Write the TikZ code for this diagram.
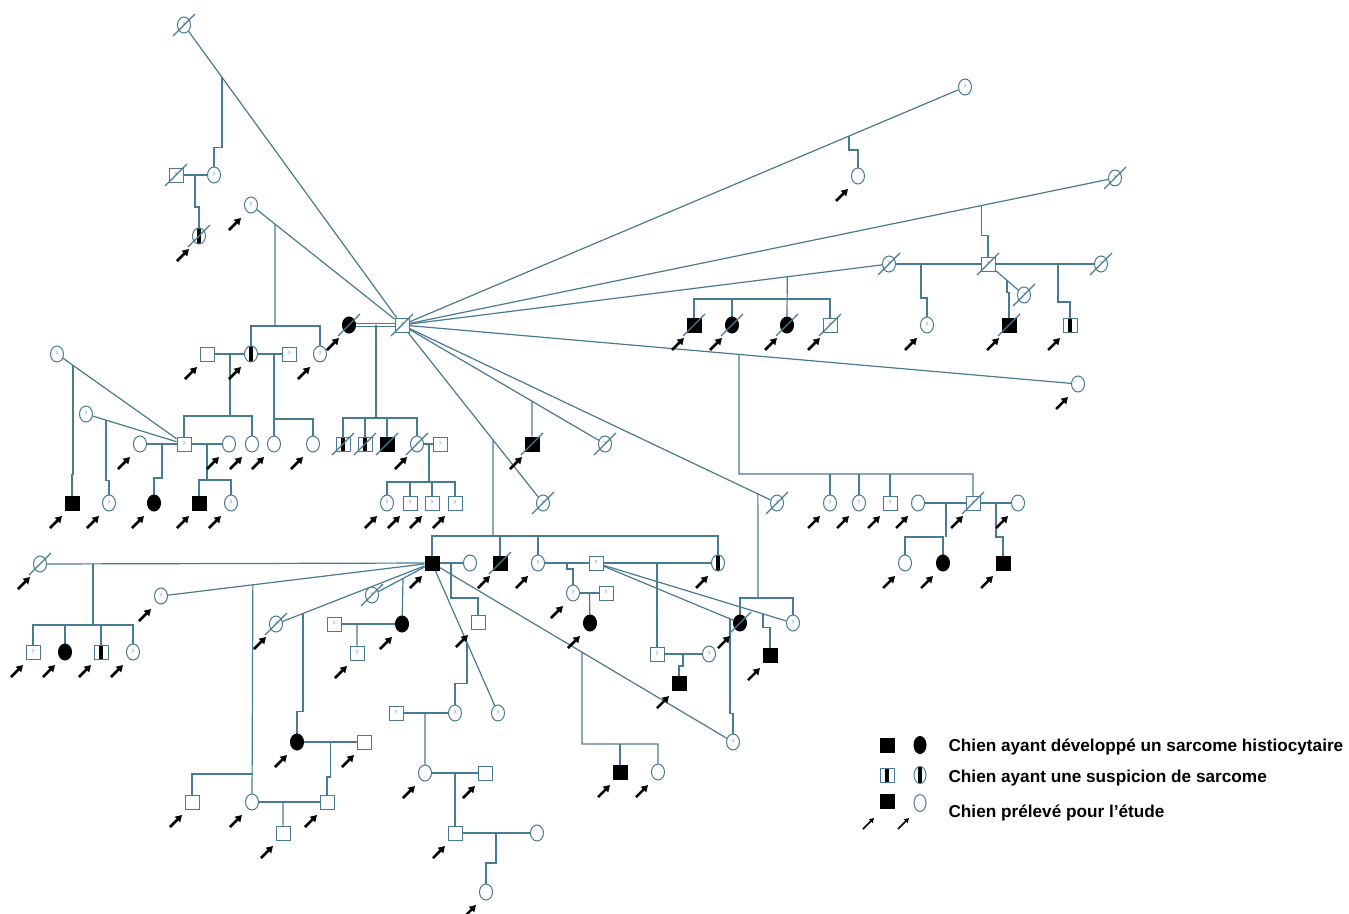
\documentclass[tikz,border=0pt]{standalone}
\usepackage{fontspec}
\setmainfont{Liberation Sans}
\usetikzlibrary{shapes.geometric,arrows.meta,calc}
\definecolor{lin}{RGB}{72,122,145}
\pgfdeclarelayer{bg}
\pgfsetlayers{bg,main}
\newcommand{\proband}[1]{\draw[pbarrow] (#1.center) ++(-22,25) -- ++(12,-12);}
\newcommand{\dcd}[1]{\draw[line] (#1.center) ++(-11,11) -- ++(22,-22);}
\tikzset{
  sym/.style={draw=lin, line width=1pt, inner sep=0pt, fill=white, text=lin, font=\fontsize{5}{5}\selectfont},
  sq/.style={sym, rectangle, minimum size=14pt},
  ci/.style={sym, ellipse, minimum width=13pt, minimum height=16pt},
  aff/.style={fill=black, draw=black},
  sus/.style={path picture={\fill[black] ([xshift=-1.6pt]path picture bounding box.south) rectangle ([xshift=1.6pt]path picture bounding box.north);}},
  line/.style={draw=lin, line width=1.2pt},
  pbarrow/.style={draw=black, line width=2.5pt, -{Triangle[length=6.5pt,width=7.5pt]}},
  legarrow/.style={draw=black, line width=1.5pt, -{Triangle[length=4.5pt,width=5pt]}},
  legtxt/.style={anchor=base west, font=\bfseries\fontsize{17.2}{18}\selectfont, text=black},
}
\begin{document}
\begin{tikzpicture}[x=1pt,y=-1pt]
\useasboundingbox (0,0) rectangle (1349,913);
% top left
\node[ci] (a1) at (184,25) {?}; \dcd{a1}
\node[sq] (h) at (402,325) {?}; \dcd{h}
\node[ci] (b1) at (214,175) {?};
\node[sq] (b2) at (176,175) {?}; \dcd{b2}
\node[ci,sus] (b3) at (199,236) {}; \dcd{b3} \proband{b3}
\node[ci] (c1) at (251,205) {?}; \proband{c1}
\node[ci,aff] (bc) at (349,325) {}; \dcd{bc} \proband{bc}
\node[sq] (d1) at (207,354) {}; \proband{d1}
\node[ci,sus] (d2) at (251,354) {}; \proband{d2}
\node[sq] (d3) at (289,354) {?};
\node[ci] (d4) at (320,354) {?}; \proband{d4}
\node[ci] (e1) at (57,354) {?};
\node[ci] (e2) at (86,414) {?};
\node[ci] (f1) at (140,444) {}; \proband{f1}
\node[sq] (f2) at (184,444) {?};
\node[ci] (f3) at (229,444) {}; \proband{f3}
\node[ci] (f4) at (252,444) {}; \proband{f4}
\node[ci] (f5) at (274,444) {}; \proband{f5}
\node[ci] (f6) at (313,444) {}; \proband{f6}
\node[sq,aff] (g1) at (72,503) {}; \proband{g1}
\node[ci] (g2) at (109,503) {?}; \proband{g2}
\node[ci,aff] (g3) at (154,503) {}; \proband{g3}
\node[sq,aff] (g4) at (199,503) {}; \proband{g4}
\node[ci] (g5) at (231,503) {?}; \proband{g5}
% around the hub
\node[sq,sus] (k1) at (343,444) {}; \dcd{k1}
\node[sq,sus] (k2) at (365,444) {}; \dcd{k2}
\node[sq,aff] (k3) at (387,444) {}; \dcd{k3}
\node[ci] (k4) at (417,444) {}; \dcd{k4} \proband{k4}
\node[sq] (k5) at (440,444) {?};
\node[ci] (l1) at (387,503) {?}; \proband{l1}
\node[sq] (l2) at (410,503) {?}; \proband{l2}
\node[sq] (l3) at (432,503) {?}; \proband{l3}
\node[sq] (l4) at (455,503) {?}; \proband{l4}
\node[sq,aff] (m1) at (532,444) {}; \dcd{m1} \proband{m1}
\node[ci] (m2) at (605,444) {?}; \dcd{m2}
\node[ci] (m3) at (543,503) {?}; \dcd{m3}
\node[ci] (m4) at (777,503) {?}; \dcd{m4}
% top right
\node[ci] (n1) at (965,87) {?};
\node[ci] (n2) at (858,176) {}; \proband{n2}
\node[ci] (n3) at (1115,178) {?}; \dcd{n3}
\node[ci] (n4) at (889,264) {?}; \dcd{n4}
\node[sq] (n5) at (988,264) {?}; \dcd{n5}
\node[ci] (n6) at (1101,264) {?}; \dcd{n6}
\node[ci] (n7) at (1024,295) {?}; \dcd{n7}
\node[ci] (n8) at (1078,384) {}; \proband{n8}
\node[sq,aff] (o1) at (694,325) {}; \dcd{o1} \proband{o1}
\node[ci,aff] (o2) at (732,325) {}; \dcd{o2} \proband{o2}
\node[ci,aff] (o3) at (787,325) {}; \dcd{o3} \proband{o3}
\node[sq] (o4) at (830,325) {?}; \dcd{o4} \proband{o4}
\node[ci] (o5) at (927,325) {?}; \proband{o5}
\node[sq,aff] (o6) at (1009,325) {}; \dcd{o6} \proband{o6}
\node[sq,sus] (o7) at (1070,325) {}; \proband{o7}
% right middle
\node[ci] (p1) at (830,503) {?}; \proband{p1}
\node[ci] (p2) at (859,503) {?}; \proband{p2}
\node[sq] (p3) at (890,503) {?}; \proband{p3}
\node[ci] (p4) at (918,503) {}; \proband{p4}
\node[sq] (p5) at (973,503) {?}; \dcd{p5} \proband{p5}
\node[ci] (p6) at (1018,503) {}; \proband{p6}
\node[ci] (q1) at (905,563) {}; \proband{q1}
\node[ci,aff] (q2) at (943,563) {}; \proband{q2}
\node[sq,aff] (q3) at (1003,563) {}; \proband{q3}
% lower centre
\node[sq,aff] (bb) at (432,563) {}; \proband{bb}
\node[ci] (r1) at (470,563) {};
\node[sq,aff] (r2) at (500,563) {}; \dcd{r2} \proband{r2}
\node[ci] (r3) at (538,563) {?}; \proband{r3}
\node[sq] (r4) at (596,563) {?};
\node[ci,sus] (r5) at (718,563) {}; \proband{r5}
\node[ci] (s1) at (573,593) {?}; \proband{s1}
\node[sq] (s2) at (606,593) {?};
\node[ci,aff] (s3) at (590,623) {}; \proband{s3}
\node[sq] (t1) at (657,654) {?};
\node[ci] (t2) at (709,654) {?};
\node[sq,aff] (t3) at (679,683) {}; \proband{t3}
\node[ci,aff] (u1) at (740,623) {}; \dcd{u1} \proband{u1}
\node[ci] (u2) at (793,623) {?};
\node[sq,aff] (u3) at (770,655) {}; \proband{u3}
\node[ci] (u4) at (733,742) {?};
\node[sq,aff] (v1) at (620,772) {}; \proband{v1}
\node[ci] (v2) at (658,772) {}; \proband{v2}
\node[sq] (w1) at (478,622) {}; \proband{w1}
\node[ci] (w2) at (498,713) {?};
\node[ci] (w3) at (455,713) {?};
\node[sq] (w4) at (396,713) {?};
\node[ci] (w5) at (425,773) {}; \proband{w5}
\node[sq] (w6) at (485,773) {}; \proband{w6}
\node[sq] (w7) at (455,833) {}; \proband{w7}
\node[ci] (w8) at (537,833) {};
\node[ci] (w9) at (486,892) {}; \proband{w9}
% lower left
\node[ci] (x1) at (40,564) {}; \dcd{x1} \proband{x1}
\node[sq] (x2) at (33,652) {?}; \proband{x2}
\node[ci,aff] (x3) at (65,652) {}; \proband{x3}
\node[sq,sus] (x4) at (101,652) {}; \proband{x4}
\node[ci] (x5) at (133,652) {?}; \proband{x5}
\node[ci] (y1) at (161,596) {?}; \proband{y1}
\node[ci] (y2) at (276,624) {?}; \dcd{y2} \proband{y2}
\node[ci] (y3) at (372,595) {?}; \dcd{y3}
\node[ci,aff] (y4) at (402,624) {}; \proband{y4}
\node[sq] (y5) at (334,624) {?};
\node[sq] (y6) at (357,653) {?}; \proband{y6}
\node[ci,aff] (z1) at (297,742) {}; \proband{z1}
\node[sq] (z2) at (364,742) {}; \proband{z2}
\node[sq] (z3) at (192,802) {}; \proband{z3}
\node[ci] (z4) at (252,802) {}; \proband{z4}
\node[sq] (z5) at (327,802) {}; \proband{z5}
\node[sq] (z6) at (283,833) {}; \proband{z6}
% connectors
\begin{pgfonlayer}{bg}
\draw[line] (a1) -- (h);
\draw[line] ($(a1)!0.174!(h)$) -- ++(0,70) -| (b1);
\draw[line] (b2) -- (b1);
\draw[line] ($(b2)!0.5!(b1)$) -- ++(0,32) -| (b3);
\draw[line] (c1) -- (h);
\coordinate (sb1) at (275,326);
\draw[line] ($(c1)!0.159!(h)$) -- (sb1);
\draw[line] (d2) -- (d2 |- sb1) -- (d4 |- sb1) -- (d4);
\draw[line, double=white, double distance=1.6pt] (bc) -- (h);
\coordinate (sb2) at (376,418);
\draw[line] (sb2) -- (sb2 |- h);
\draw[line] (k1) -- (k1 |- sb2) -- (k4 |- sb2) -- (k4);
\draw[line] (k2) -- (k2 |- sb2);
\draw[line] (k3) -- (k3 |- sb2);
\draw[line] (d1) -- (d2);
\draw[line] (d2) -- (d3);
\coordinate (sb3) at (230,416);
\draw[line] (sb3) -- (sb3 |- d1);
\draw[line] (f2) -- (f2 |- sb3) -- (f4 |- sb3) -- (f4);
\coordinate (sb4) at (274,419);
\draw[line] (sb4) -- (sb4 |- d3);
\draw[line] (f5) -- (f5 |- sb4) -- (f6 |- sb4) -- (f6);
\draw[line] (e1) -- (f2);
\draw[line] ($(e1)!0.126!(f2)$) -- ++(0,109) -| (g1);
\draw[line] (e2) -- (f2);
\draw[line] ($(e2)!0.204!(f2)$) -- ++(0,60) -| (g2);
\draw[line] (f1) -- (f2);
\draw[line] ($(f1)!0.5!(f2)$) -- ++(0,34) -| (g3);
\draw[line] (f2) -- (f3);
\coordinate (sb5) at (207,480);
\draw[line] (sb5) -- (sb5 |- f2);
\draw[line] (g4) -- (g4 |- sb5) -- (g5 |- sb5) -- (g5);
\draw[line] (k4) -- (k5);
\coordinate (sb6) at (429,482);
\draw[line] (sb6) -- (sb6 |- k4);
\draw[line] (l1) -- (l1 |- sb6) -- (l4 |- sb6) -- (l4);
\draw[line] (l2) -- (l2 |- sb6);
\draw[line] (l3) -- (l3 |- sb6);
\draw[line] (h) -- (m2);
\draw[line] ($(h)!0.64!(m2)$) -- (m1);
\draw[line] (h) -- (m3);
\coordinate (sb7) at (493,536);
\draw[line] ($(h)!0.645!(m3)$) -- (sb7);
\draw[line] (bb) -- (bb |- sb7) -- (r5 |- sb7) -- (r5);
\draw[line] (r2) -- (r2 |- sb7);
\draw[line] (r3) -- (r3 |- sb7);
\draw[line] (h) -- (m4);
\coordinate (sb8) at (758,598);
\draw[line] ($(h)!0.949!(m4)$) -- (sb8);
\draw[line] (u1) -- (u1 |- sb8) -- (u2 |- sb8) -- (u2);
\draw[line] (h) -- (n1);
\draw[line] ($(h)!0.794!(n1)$) -- ++(0,14) -| (n2);
\draw[line] (h) -- (n3);
\draw[line] ($(h)!0.813!(n3)$) -- ++(0,30) -| (n5);
\draw[line] (h) -- (n4);
\coordinate (sb9) at (787,299);
\draw[line] ($(h)!0.791!(n4)$) -- (o3);
\draw[line] (o1) -- (o1 |- sb9) -- (o4 |- sb9) -- (o4);
\draw[line] (o2) -- (o2 |- sb9);
\draw[line] (n4) -- (n5);
\draw[line] (n5) -- (n6);
\draw[line] (n5) -- (n7);
\draw[line] ($(n4)!0.323!(n5)$) -- ++(0,34) -| (o5);
\draw[line] ($(n5)!0.53!(n7)$) -- ++(0,12) -| (o6);
\draw[line] ($(n5)!0.619!(n6)$) -- ++(0,38) -| (o7);
\draw[line] (h) -- (n8);
\coordinate (sb10) at (739,474);
\draw[line] ($(h)!0.4985!(n8)$) -- (sb10) -- (sb10 -| p5) -- (p5);
\draw[line] (p1) -- (p1 |- sb10);
\draw[line] (p2) -- (p2 |- sb10);
\draw[line] (p3) -- (p3 |- sb10);
\draw[line] (p4) -- (p5);
\coordinate (sb11) at (946,537);
\draw[line] (sb11) -- (sb11 |- p4);
\draw[line] (q1) -- (q1 |- sb11) -- (q2 |- sb11) -- (q2);
\draw[line] (p5) -- (p6);
\draw[line] ($(p5)!0.511!(p6)$) -- ++(0,34) -| (q3);
\draw[line] (bb) -- (r1);
\draw[line] ($(bb)!0.5!(r1)$) -- ++(0,35) -| (w1);
\draw[line] (bb) -- (w2);
\draw[line] ($(bb)!0.53!(w2)$) -- ++(0,41) -| (w3);
\draw[line] (w4) -- (w3);
\draw[line] ($(w4)!0.49!(w3)$) -- (w5);
\draw[line] (w5) -- (w6);
\draw[line] ($(w5)!0.5!(w6)$) -- (w7);
\draw[line] (w7) -- (w8);
\draw[line] ($(w7)!0.5!(w8)$) -- ++(0,30) -| (w9);
\draw[line] (r3) -- (r4);
\draw[line] ($(r3)!0.5!(r4)$) -- ++(0,6) -| (s1);
\draw[line] (s1) -- (s2);
\draw[line] ($(s1)!0.5!(s2)$) -- (s3);
\draw[line] (r4) -- (r5);
\draw[line] ($(r4)!0.5!(r5)$) -- (t1);
\draw[line] (t1) -- (t2);
\draw[line] ($(t1)!0.5!(t2)$) -- ++(0,12) -| (t3);
\draw[line] (r4) -- (u1);
\draw[line] (r4) -- (u2);
\draw[line] ($(r4)!0.848!(u2)$) -- ++(0,14) -| (u3);
\draw[line] ($(r4)!0.93!(u1)$) -- ++(0,95) -| (u4);
\draw[line] (bb) -- (u4);
\coordinate (sb12) at (582,744);
\draw[line] ($(bb)!0.498!(u4)$) -- (sb12) -- (sb12 -| v2) -- (v2);
\draw[line] (v1) -- (v1 |- sb12);
\draw[line] (x1) -- (bb);
\coordinate (sb13) at (93,625);
\draw[line] (sb13) -- (sb13 |- x1);
\draw[line] (x2) -- (x2 |- sb13) -- (x5 |- sb13) -- (x5);
\draw[line] (x3) -- (x3 |- sb13);
\draw[line] (x4) -- (x4 |- sb13);
\draw[line] (y1) -- (bb);
\coordinate (sb14) at (253,774);
\draw[line] ($(y1)!0.339!(bb)$) -- (z4);
\draw[line] (z3) -- (z3 |- sb14) -- (sb14);
\draw[line] (y2) -- (bb);
\draw[line] ($(y2)!0.173!(bb)$) -- ++(0,98) -| (z1);
\draw[line] (y3) -- (bb);
\draw[line] ($(y3)!0.517!(bb)$) -- (y4);
\draw[line] (y5) -- (y4);
\draw[line] ($(y5)!0.338!(y4)$) -- (y6);
\draw[line] (z1) -- (z2);
\draw[line] ($(z1)!0.5!(z2)$) -- ++(0,35) -| (z5);
\draw[line] (z4) -- (z5);
\draw[line] ($(z4)!0.413!(z5)$) -- (z6);
\end{pgfonlayer}
% legend
\node[sq,aff] (lg1s) at (887,745) {};
\node[ci,aff,minimum width=12pt,minimum height=17pt] (lg1c) at (920,745) {};
\node[legtxt] (lg1t) at (945,751) {Chien ayant développé un sarcome histiocytaire};
\node[sq,sus] (lg2s) at (887,775) {};
\node[ci,sus,minimum width=12pt,minimum height=17pt] (lg2c) at (920,775) {};
\node[legtxt] (lg2t) at (945,782) {Chien ayant une suspicion de sarcome};
\node[sq,aff] (lg3s) at (887,801) {};
\node[ci,minimum width=12pt,minimum height=17pt] (lg3c) at (920,803) {};
\node[legtxt] (lg3t) at (945,817) {Chien prélevé pour l’étude};
\draw[legarrow] (lg3s.center) ++(-24,28) -- ++(11,-11);
\draw[legarrow] (lg3c.center) ++(-22,26) -- ++(11,-11);
\end{tikzpicture}
\end{document}
